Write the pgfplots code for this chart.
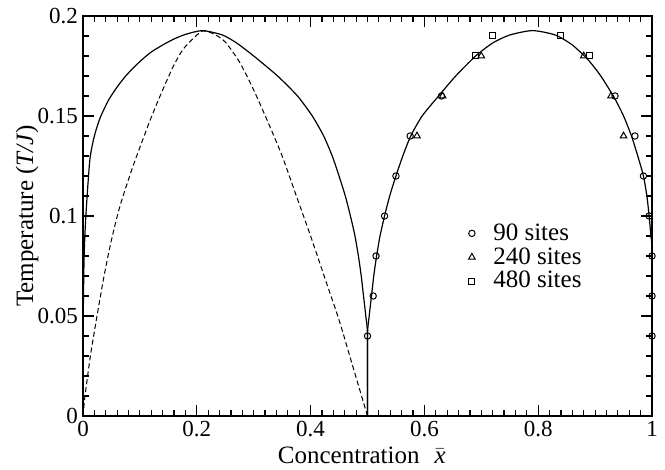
\documentclass[border=0pt]{standalone}
\usepackage{fontspec}
\setmainfont{Liberation Serif}
\usepackage{pgfplots}
\pgfplotsset{compat=1.18}
\begin{document}
\begin{tikzpicture}
\useasboundingbox (-41.5pt,-27pt) rectangle (291pt,208pt);
\begin{axis}[
  scale only axis, width=284.5pt, height=200pt,
  xmin=0, xmax=1, ymin=0, ymax=0.2,
  xtick={0,0.2,0.4,0.6,0.8,1}, xticklabels={0,0.2,0.4,0.6,0.8,1},
  ytick={0,0.05,0.1,0.15,0.2}, yticklabels={0,0.05,0.1,0.15,0.2},
  minor x tick num=9, minor y tick num=4,
  tick align=inside, major tick length=5.5pt, minor tick length=3pt,
  tick style={line width=0.6pt, black},
  axis line style={line width=0.7pt},
  /pgf/number format/assume math mode=true,
  ticklabel style={font=\fontsize{11.5}{11.5}\selectfont},
  xticklabel style={yshift=1pt},
  yticklabel style={xshift=1pt},
  label style={font=\fontsize{12.5}{12.5}\selectfont},
  xlabel={Concentration\hspace{0.6em}$\bar{\textit{x}}$},
  ylabel={Temperature (\textit{T/J})},
  xlabel style={at={(axis description cs:0.49,-0.0975)}, anchor=center},
  ylabel style={at={(axis description cs:-0.0984,0.5)}, anchor=center, rotate=0},
  legend style={draw=none, fill=none, at={(0.677,0.397)}, anchor=west,
    font=\fontsize{12.5}{12.5}\selectfont, row sep=-0.3pt, inner sep=0pt,
    nodes={inner sep=1.2pt}},
  legend cell align=left,
  legend image code/.code={\path[draw=none] (0pt,0pt) (11pt,0pt); \draw[#1] plot coordinates {(1.5pt,0pt)};},
]
% left lobe (solid)
\addplot[black, line width=0.6pt, smooth, tension=0.4, forget plot] coordinates {
(0,0) (0.0005,0.05) (0.002,0.08) (0.005,0.1) (0.012,0.128) (0.02,0.14) (0.03,0.149)
(0.045,0.158) (0.06,0.1645) (0.075,0.170) (0.09,0.1745) (0.105,0.1785) (0.12,0.182)
(0.14,0.1855) (0.16,0.1885) (0.18,0.1908) (0.21,0.1927) (0.245,0.1905) (0.27,0.1865)
(0.30,0.18) (0.342,0.17) (0.377,0.16) (0.403,0.150) (0.423,0.14) (0.438,0.13)
(0.45,0.12) (0.461,0.11) (0.470,0.10) (0.478,0.09) (0.484,0.08) (0.489,0.07)
(0.493,0.06) (0.497,0.05) (0.5,0.04) (0.5,0)
};
% right lobe (solid)
\addplot[black, line width=0.6pt, smooth, tension=0.4, forget plot] coordinates {
(0.5,0) (0.5,0.04) (0.503,0.05) (0.507,0.06) (0.511,0.07) (0.516,0.08) (0.522,0.09)
(0.530,0.10) (0.539,0.11) (0.550,0.12) (0.562,0.13) (0.576,0.14) (0.596,0.15)
(0.625,0.16) (0.655,0.17) (0.690,0.18) (0.720,0.1865) (0.750,0.1905) (0.790,0.1927)
(0.830,0.1905) (0.860,0.1855) (0.888,0.178) (0.910,0.170) (0.934,0.159) (0.950,0.150)
(0.964,0.140) (0.975,0.130) (0.985,0.120) (0.991,0.110) (0.995,0.100) (0.998,0.090)
(1.0,0.080) (1.0,0)
};
% dashed
\addplot[black, line width=0.5pt, dash pattern=on 2.5pt off 1.5pt, smooth, tension=0.4, forget plot] coordinates {
(0,0) (0.0035,0.01) (0.013,0.03) (0.024,0.049) (0.037,0.07) (0.05,0.088) (0.065,0.105)
(0.088,0.125) (0.1195,0.149) (0.14,0.163) (0.159,0.175) (0.175,0.183) (0.191,0.188)
(0.21,0.1925) (0.23,0.191) (0.25,0.187) (0.275,0.177) (0.30,0.163) (0.325,0.147)
(0.35,0.13) (0.375,0.11) (0.40,0.09) (0.425,0.069) (0.45,0.048) (0.475,0.024) (0.5,0)
};
\addplot[only marks, mark=o, mark size=1.6pt, black, mark options={line width=0.5pt}] coordinates {
(0.5,0.04) (0.51,0.06) (0.515,0.08) (0.53,0.10) (0.55,0.12) (0.575,0.14) (0.63,0.16)
(0.935,0.16) (0.97,0.14) (0.985,0.12) (0.995,0.10) (1.0,0.08) (1.0,0.06) (1.0,0.04)
};
\addlegendentry{90 sites}
\addplot[only marks, mark=triangle, mark size=1.9pt, black, mark options={line width=0.5pt}] coordinates {
(0.587,0.14) (0.632,0.16) (0.70,0.18) (0.88,0.18) (0.928,0.16) (0.95,0.14)
};
\addlegendentry{240 sites}
\addplot[only marks, mark=square, mark size=1.5pt, black, mark options={line width=0.5pt}] coordinates {
(0.69,0.18) (0.72,0.19) (0.84,0.19) (0.89,0.18)
};
\addlegendentry{480 sites}
\end{axis}
\end{tikzpicture}
\end{document}
